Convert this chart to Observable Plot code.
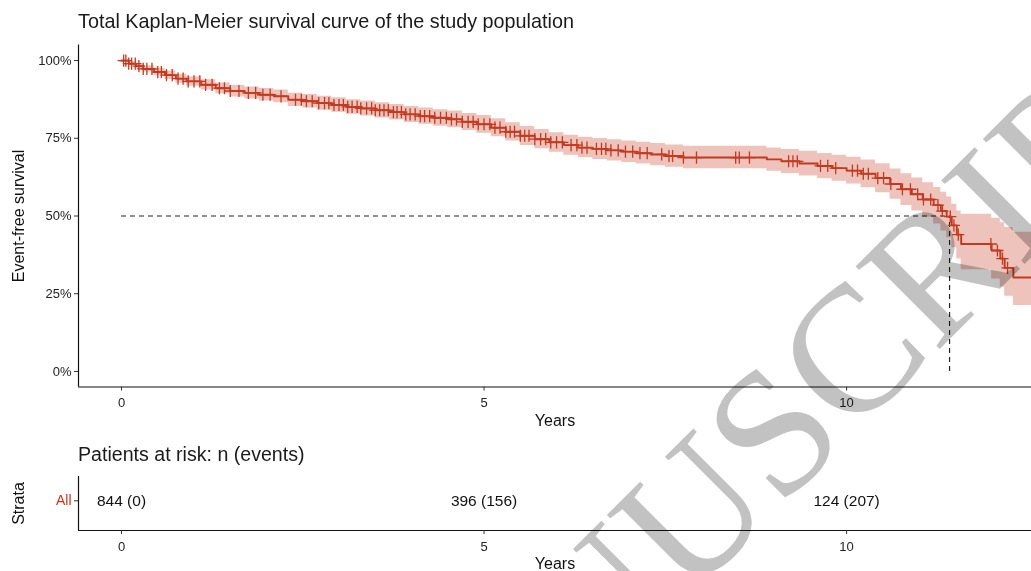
<!DOCTYPE html>
<html><head><meta charset="utf-8">
<script src="https://cdn.jsdelivr.net/npm/d3@7"></script>
<script src="https://cdn.jsdelivr.net/npm/@observablehq/plot@0.6"></script>
<style>
body{margin:0;background:#fff;font-family:"Liberation Sans",Arial,sans-serif;}
#wrap{position:relative;width:1031px;height:571px;overflow:hidden;background:#fff;}
.abs{position:absolute;}
#title{left:78px;top:10px;font-size:19.8px;color:#1a1a1a;white-space:nowrap;}
#rtitle{left:78px;top:443px;font-size:19.6px;color:#1a1a1a;white-space:nowrap;}
#wm{left:0;top:0;pointer-events:none;mix-blend-mode:multiply;}
</style></head><body>
<div id="wrap">
<div id="main" class="abs" style="left:0;top:0"></div>
<div id="title" class="abs">Total Kaplan-Meier survival curve of the study population</div>
<div id="rtitle" class="abs">Patients at risk: n (events)</div>
<div id="risk" class="abs" style="left:0;top:470px"></div>
<svg id="wm" class="abs" width="1031" height="571"><text x="0" y="0" transform="translate(758,445) rotate(-45)" text-anchor="middle" dominant-baseline="central" font-family="Liberation Serif, DejaVu Serif, serif" font-size="180" fill="#c2c2c2">MANUSCRIPT</text></svg>
</div>
<script>
// Kaplan-Meier step function (years, survival %, 95% CI lower %, upper %)
const times = [0,0.1,0.2,0.3,0.45,0.6,0.75,0.9,1.1,1.3,1.5,1.7,1.9,2.1,2.3,2.5,2.7,2.9,3.1,3.3,3.5,3.7,3.9,4.1,4.3,4.5,4.7,4.9,5.1,5.3,5.5,5.7,5.9,6.1,6.3,6.5,6.7,6.9,7.1,7.3,7.5,7.75,8.9,9.1,9.35,9.6,9.8,10.0,10.2,10.4,10.6,10.75,10.9,11.05,11.2,11.3,11.38,11.45,11.52,11.58,12.0,12.12,12.18,12.3,12.9];
const survival = [100,99.0,98.2,97.3,96.3,95.3,94.2,93.3,92.2,91.1,90.2,89.6,89.0,88.5,87.4,86.9,86.3,85.7,85.1,84.6,84.0,83.4,82.7,82.1,81.6,81.1,80.3,79.5,78.4,77.1,75.8,74.7,73.7,72.8,72.0,71.6,71.1,70.7,70.2,69.8,69.3,68.8,68.2,67.6,66.9,66.1,65.4,64.6,63.6,62.2,60.3,58.6,57.0,55.3,53.5,51.6,49.8,47.0,44.0,41.0,38.9,36.3,33.3,30.2,30.2];
const lowerCI = [100,98.4,97.4,96.3,95.1,93.9,92.7,91.7,90.5,89.3,88.3,87.6,87.0,86.4,85.2,84.7,84.0,83.4,82.7,82.2,81.5,80.9,80.1,79.5,78.9,78.4,77.5,76.6,75.5,74.1,72.7,71.6,70.5,69.5,68.7,68.2,67.7,67.2,66.7,66.2,65.7,65.2,64.4,63.7,62.9,62.0,61.2,60.3,59.1,57.5,55.4,53.4,51.6,49.6,47.4,45.2,43.0,39.8,36.2,32.7,29.7,27.2,24.2,21.2,21.2];
const upperCI = [100,99.6,99.0,98.3,97.5,96.6,95.6,94.8,93.8,92.8,92.0,91.5,91.0,90.5,89.5,89.1,88.5,88.0,87.4,87.0,86.4,85.9,85.2,84.7,84.2,83.8,83.0,82.3,81.3,80.0,78.8,77.8,76.8,76.0,75.3,74.9,74.5,74.1,73.7,73.3,72.8,72.4,71.9,71.4,70.8,70.1,69.5,68.9,68.0,66.8,65.1,63.6,62.2,60.7,59.2,57.6,56.1,53.8,51.6,50.6,49.3,47.8,46.3,44.8,44.8];
// censoring times (years)
const censorTimes = [0.03,0.06,0.1,0.14,0.19,0.24,0.3,0.35,0.42,0.5,0.55,0.62,0.7,0.78,0.85,0.92,1.0,1.08,1.16,1.25,1.35,1.42,1.5,1.62,1.75,1.85,1.95,2.05,2.2,2.4,2.48,2.55,2.63,2.72,2.8,2.86,2.93,3.0,3.06,3.12,3.18,3.25,3.3,3.38,3.45,3.5,3.56,3.62,3.68,3.75,3.8,3.86,3.92,3.98,4.05,4.12,4.18,4.25,4.32,4.4,4.48,4.55,4.62,4.7,4.78,4.85,4.92,5.0,5.08,5.15,5.22,5.3,5.36,5.42,5.5,5.56,5.62,5.7,5.78,5.85,5.92,6.0,6.08,6.2,6.28,6.35,6.42,6.55,6.62,6.68,6.75,6.85,6.95,7.05,7.15,7.25,7.45,7.55,7.6,7.75,7.93,8.47,8.52,8.66,9.2,9.26,9.32,9.64,9.74,9.85,10.08,10.15,10.23,10.3,10.43,10.51,10.61,10.77,10.88,10.98,11.06,11.16,11.26,11.32,11.43,11.48,11.54,11.99,12.08,12.15,12.22];
const medianTime = 11.42;
// risk table
const riskTimes = [0,5,10];
const riskN = [844,396,124];
const riskEvents = [0,156,207];
const yTicks = [0,0.25,0.5,0.75,1];
const xTicks = [0,5,10];

const red = "#c4391f";
const xDomain = [-0.593, 12.55];
const font = "Liberation Sans, Arial, sans-serif";

const km = times.map((t,i)=>({t, s:survival[i]/100, lo:lowerCI[i]/100, up:upperCI[i]/100}));
const stepAt = t => km[Math.max(0, d3.bisectRight(times, t) - 1)].s;
const censor = censorTimes.map(t=>({t, s:stepAt(t)}));

const main = Plot.plot({
  width:1031, height:430,
  marginTop:44.5, marginBottom:43.5, marginLeft:78, marginRight:0,
  style:{fontFamily:font, fontSize:"13px", color:"#333", background:"transparent", overflow:"visible"},
  x:{domain:xDomain},
  y:{domain:[-0.05,1.05]},
  marks:[
    Plot.areaY(km,{x:"t",y1:"lo",y2:"up",curve:"step-after",fill:red,fillOpacity:0.3}),
    Plot.ruleY([0.5],{x1:0,x2:medianTime,stroke:"#222",strokeWidth:1.2,strokeDasharray:"5,4"}),
    Plot.ruleX([medianTime],{y1:0,y2:0.5,stroke:"#222",strokeWidth:1.2,strokeDasharray:"5,4"}),
    Plot.line(km,{x:"t",y:"s",curve:"step-after",stroke:red,strokeWidth:1.9}),
    Plot.dot(censor,{x:"t",y:"s",symbol:"plus",r:4,stroke:red,strokeWidth:1.3}),
    Plot.ruleX([xDomain[0]],{stroke:"#111",strokeWidth:1.2}),
    Plot.ruleY([-0.05],{stroke:"#111",strokeWidth:1.2}),
    Plot.axisX({ticks:xTicks, tickSize:4, tickPadding:7, label:null, stroke:"#333", fill:"#222"}),
    Plot.axisY({ticks:yTicks, tickSize:4, tickPadding:3, label:null, tickFormat:d=>Math.round(d*100)+"%", stroke:"#333", fill:"#222"}),
    Plot.text(["Years"],{text:d=>d, frameAnchor:"bottom", dy:39, fontSize:16, fill:"#111"}),
    Plot.text(["Event-free survival"],{text:d=>d, frameAnchor:"left", dx:-60, rotate:-90, textAnchor:"middle", fontSize:16, fill:"#111"})
  ]
});
document.getElementById("main").appendChild(main);

const riskRows = riskTimes.map((t,i)=>({t, label:`${riskN[i]} (${riskEvents[i]})`}));
const risk = Plot.plot({
  width:1031, height:101,
  marginTop:6, marginBottom:41, marginLeft:78, marginRight:0,
  style:{fontFamily:font, fontSize:"13px", color:"#333", background:"transparent", overflow:"visible"},
  x:{domain:xDomain},
  y:{domain:[0,1]},
  marks:[
    Plot.text(riskRows,{x:"t", y:0.55, text:"label", fontSize:15.5, fill:"#111"}),
    Plot.ruleX([xDomain[0]],{stroke:"#111",strokeWidth:1.2}),
    Plot.ruleY([0],{stroke:"#111",strokeWidth:1.2}),
    Plot.axisX({ticks:xTicks, tickSize:4, tickPadding:7, label:null, stroke:"#333", fill:"#222"}),
    Plot.axisY({ticks:[0.55], tickSize:4, tickPadding:3, label:null, tickFormat:()=>"All", stroke:"#333", fill:red, fontSize:14}),
    Plot.text(["Years"],{text:d=>d, frameAnchor:"bottom", dy:38, fontSize:16, fill:"#111"}),
    Plot.text(["Strata"],{text:d=>d, frameAnchor:"left", dx:-60, rotate:-90, textAnchor:"middle", fontSize:16, fill:"#111"})
  ]
});
document.getElementById("risk").appendChild(risk);
</script>
</body></html>
